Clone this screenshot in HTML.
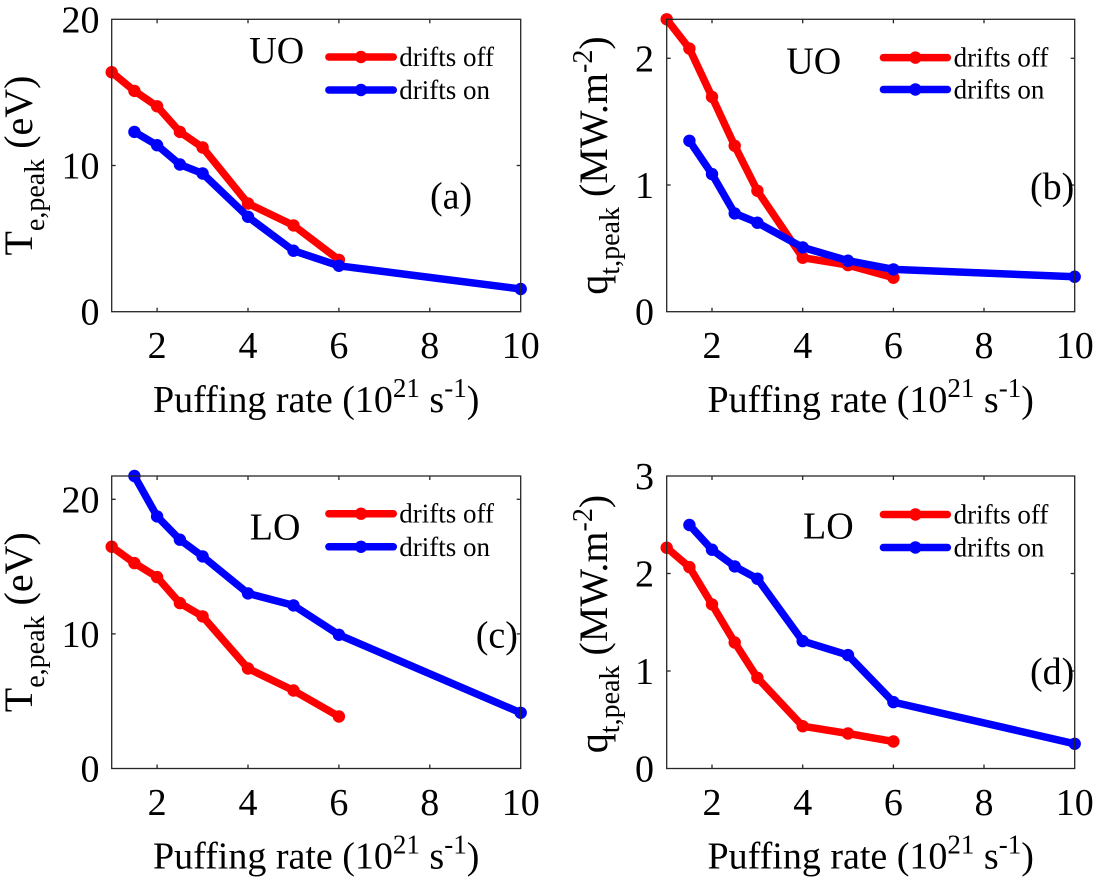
<!DOCTYPE html>
<html>
<head>
<meta charset="utf-8">
<style>
  html,body{margin:0;padding:0;background:#fff;}
  svg{display:block;}
  svg text, svg tspan{font-family:"Liberation Serif","Times New Roman",serif;fill:#000;}
  .tk{font-size:38px;font-family:"Liberation Serif",serif;}
  .lg{font-size:27px;font-family:"Liberation Serif",serif;}
  .lb{font-size:38px;font-family:"Liberation Serif",serif;}
  .ax{fill:none;stroke:#262626;stroke-width:1.3;}
  .tick{stroke:#262626;stroke-width:1.3;}
  .r{fill:none;stroke:#ff0000;stroke-width:7.5;stroke-linejoin:round;stroke-linecap:round;}
  .b{fill:none;stroke:#0000ff;stroke-width:7.5;stroke-linejoin:round;stroke-linecap:round;}
  .rm{fill:#ff0000;}
  .bm{fill:#0000ff;}
</style>
</head>
<body>
<svg width="1102" height="883" viewBox="0 0 1102 883" xmlns="http://www.w3.org/2000/svg" font-family="Liberation Serif, serif">
<rect x="0" y="0" width="1102" height="883" fill="#fff"/>

<!-- ================= PANEL A ================= -->
<g font-family="Liberation Serif, serif">
  <polyline class="r" points="111.7,72.2 134.4,90.9 157.1,106.3 179.9,131.9 202.6,147.5 248.0,203.5 293.5,225.4 338.9,259.8"/>
  <g class="rm">
    <circle cx="111.7" cy="72.2" r="6.2"/><circle cx="134.4" cy="90.9" r="6.2"/><circle cx="157.1" cy="106.3" r="6.2"/><circle cx="179.9" cy="131.9" r="6.2"/><circle cx="202.6" cy="147.5" r="6.2"/><circle cx="248.0" cy="203.5" r="6.2"/><circle cx="293.5" cy="225.4" r="6.2"/><circle cx="338.9" cy="259.8" r="6.2"/>
  </g>
  <polyline class="b" points="134.4,131.9 157.1,145.2 179.9,164.5 202.6,173.5 248.0,216.8 293.5,250.7 338.9,265.8 520.7,289.0"/>
  <g class="bm">
    <circle cx="134.4" cy="131.9" r="6.2"/><circle cx="157.1" cy="145.2" r="6.2"/><circle cx="179.9" cy="164.5" r="6.2"/><circle cx="202.6" cy="173.5" r="6.2"/><circle cx="248.0" cy="216.8" r="6.2"/><circle cx="293.5" cy="250.7" r="6.2"/><circle cx="338.9" cy="265.8" r="6.2"/><circle cx="520.7" cy="289.0" r="6.2"/>
  </g>
  <rect class="ax" x="111.7" y="19.3" width="409" height="292.4"/>
  <g class="tick">
    <line x1="157.1" y1="311.7" x2="157.1" y2="307.7"/><line x1="248.0" y1="311.7" x2="248.0" y2="307.7"/><line x1="338.9" y1="311.7" x2="338.9" y2="307.7"/><line x1="429.8" y1="311.7" x2="429.8" y2="307.7"/>
    <line x1="157.1" y1="19.3" x2="157.1" y2="23.3"/><line x1="248.0" y1="19.3" x2="248.0" y2="23.3"/><line x1="338.9" y1="19.3" x2="338.9" y2="23.3"/><line x1="429.8" y1="19.3" x2="429.8" y2="23.3"/>
    <line x1="111.7" y1="165.5" x2="115.7" y2="165.5"/><line x1="520.7" y1="165.5" x2="516.7" y2="165.5"/>
  </g>
  <text class="tk" font-family="Liberation Serif, serif" x="99.5" y="32.5" text-anchor="end">20</text>
  <text class="tk" font-family="Liberation Serif, serif" x="99.5" y="178.5" text-anchor="end">10</text>
  <text class="tk" font-family="Liberation Serif, serif" x="99.5" y="324.7" text-anchor="end">0</text>
  <text class="tk" font-family="Liberation Serif, serif" x="157.1" y="358" text-anchor="middle">2</text>
  <text class="tk" font-family="Liberation Serif, serif" x="248.0" y="358" text-anchor="middle">4</text>
  <text class="tk" font-family="Liberation Serif, serif" x="338.9" y="358" text-anchor="middle">6</text>
  <text class="tk" font-family="Liberation Serif, serif" x="429.8" y="358" text-anchor="middle">8</text>
  <text class="tk" font-family="Liberation Serif, serif" x="520.7" y="358" text-anchor="middle">10</text>
  <text class="lb" font-family="Liberation Serif, serif" x="316.2" y="412" text-anchor="middle">Puffing rate (10<tspan font-size="27" dy="-15">21</tspan><tspan dy="15"> s</tspan><tspan font-size="27" dy="-15">-1</tspan><tspan dy="15">)</tspan></text>
  <text font-family="Liberation Serif, serif" font-size="40" transform="translate(32,165.5) rotate(-90)" text-anchor="middle">T<tspan font-size="28" dy="12">e,peak</tspan><tspan dy="-12"> (eV)</tspan></text>
  <text class="lb" font-family="Liberation Serif, serif" x="249.3" y="63">UO</text>
  <text class="lb" font-family="Liberation Serif, serif" x="430" y="208.5">(a)</text>
  <line class="r" x1="328.9" y1="57" x2="393.3" y2="57" stroke-linecap="butt"/>
  <circle class="rm" cx="361" cy="57" r="6.2"/>
  <line class="b" x1="328.9" y1="90" x2="393.3" y2="90" stroke-linecap="butt"/>
  <circle class="bm" cx="361" cy="90" r="6.2"/>
  <text class="lg" font-family="Liberation Serif, serif" x="399.3" y="66">drifts off</text>
  <text class="lg" font-family="Liberation Serif, serif" x="399.3" y="99">drifts on</text>
</g>

<!-- ================= PANEL B ================= -->
<g font-family="Liberation Serif, serif">
  <polyline class="r" points="666.7,19.3 689.4,48.6 712.0,96.9 734.7,145.8 757.4,190.8 802.7,257.7 848.0,265.1 893.4,277.7"/>
  <g class="rm">
    <circle cx="666.7" cy="19.3" r="6.2"/><circle cx="689.4" cy="48.6" r="6.2"/><circle cx="712.0" cy="96.9" r="6.2"/><circle cx="734.7" cy="145.8" r="6.2"/><circle cx="757.4" cy="190.8" r="6.2"/><circle cx="802.7" cy="257.7" r="6.2"/><circle cx="848.0" cy="265.1" r="6.2"/><circle cx="893.4" cy="277.7" r="6.2"/>
  </g>
  <polyline class="b" points="689.4,140.8 712.0,174.1 734.7,213.4 757.4,222.7 802.7,247.4 848.0,260.7 893.4,269.4 1074.7,276.7"/>
  <g class="bm">
    <circle cx="689.4" cy="140.8" r="6.2"/><circle cx="712.0" cy="174.1" r="6.2"/><circle cx="734.7" cy="213.4" r="6.2"/><circle cx="757.4" cy="222.7" r="6.2"/><circle cx="802.7" cy="247.4" r="6.2"/><circle cx="848.0" cy="260.7" r="6.2"/><circle cx="893.4" cy="269.4" r="6.2"/><circle cx="1074.7" cy="276.7" r="6.2"/>
  </g>
  <rect class="ax" x="666.7" y="19.3" width="408" height="292.4"/>
  <g class="tick">
    <line x1="712.0" y1="311.7" x2="712.0" y2="307.7"/><line x1="802.7" y1="311.7" x2="802.7" y2="307.7"/><line x1="893.4" y1="311.7" x2="893.4" y2="307.7"/><line x1="984.0" y1="311.7" x2="984.0" y2="307.7"/>
    <line x1="712.0" y1="19.3" x2="712.0" y2="23.3"/><line x1="802.7" y1="19.3" x2="802.7" y2="23.3"/><line x1="893.4" y1="19.3" x2="893.4" y2="23.3"/><line x1="984.0" y1="19.3" x2="984.0" y2="23.3"/>
    <line x1="666.7" y1="185.0" x2="670.7" y2="185.0"/><line x1="1074.7" y1="185.0" x2="1070.7" y2="185.0"/>
    <line x1="666.7" y1="58.3" x2="670.7" y2="58.3"/><line x1="1074.7" y1="58.3" x2="1070.7" y2="58.3"/>
  </g>
  <text class="tk" font-family="Liberation Serif, serif" x="654" y="71.3" text-anchor="end">2</text>
  <text class="tk" font-family="Liberation Serif, serif" x="654" y="198" text-anchor="end">1</text>
  <text class="tk" font-family="Liberation Serif, serif" x="654" y="324.7" text-anchor="end">0</text>
  <text class="tk" font-family="Liberation Serif, serif" x="712.0" y="358" text-anchor="middle">2</text>
  <text class="tk" font-family="Liberation Serif, serif" x="802.7" y="358" text-anchor="middle">4</text>
  <text class="tk" font-family="Liberation Serif, serif" x="893.4" y="358" text-anchor="middle">6</text>
  <text class="tk" font-family="Liberation Serif, serif" x="984.0" y="358" text-anchor="middle">8</text>
  <text class="tk" font-family="Liberation Serif, serif" x="1074.7" y="358" text-anchor="middle">10</text>
  <text class="lb" font-family="Liberation Serif, serif" x="870.7" y="412" text-anchor="middle">Puffing rate (10<tspan font-size="27" dy="-15">21</tspan><tspan dy="15"> s</tspan><tspan font-size="27" dy="-15">-1</tspan><tspan dy="15">)</tspan></text>
  <text font-family="Liberation Serif, serif" font-size="40" transform="translate(607,165.5) rotate(-90)" text-anchor="middle">q<tspan font-size="28" dy="12">t,peak</tspan><tspan dy="-12"> (MW.m</tspan><tspan font-size="28" dy="-15">-2</tspan><tspan dy="15">)</tspan></text>
  <text class="lb" font-family="Liberation Serif, serif" x="786.3" y="73.6">UO</text>
  <text class="lb" font-family="Liberation Serif, serif" x="1030" y="199">(b)</text>
  <line class="r" x1="883.4" y1="57.6" x2="947.4" y2="57.6" stroke-linecap="butt"/>
  <circle class="rm" cx="915.4" cy="57.6" r="6.2"/>
  <line class="b" x1="883.4" y1="89.5" x2="947.4" y2="89.5" stroke-linecap="butt"/>
  <circle class="bm" cx="915.4" cy="89.5" r="6.2"/>
  <text class="lg" font-family="Liberation Serif, serif" x="953.6" y="66.6">drifts off</text>
  <text class="lg" font-family="Liberation Serif, serif" x="953.6" y="98.5">drifts on</text>
</g>

<!-- ================= PANEL C ================= -->
<g font-family="Liberation Serif, serif">
  <polyline class="r" points="111.7,546.7 134.4,563.1 157.1,577.1 179.9,603.1 202.6,616.4 248.0,668.5 293.5,690.5 338.9,716.5"/>
  <g class="rm">
    <circle cx="111.7" cy="546.7" r="6.2"/><circle cx="134.4" cy="563.1" r="6.2"/><circle cx="157.1" cy="577.1" r="6.2"/><circle cx="179.9" cy="603.1" r="6.2"/><circle cx="202.6" cy="616.4" r="6.2"/><circle cx="248.0" cy="668.5" r="6.2"/><circle cx="293.5" cy="690.5" r="6.2"/><circle cx="338.9" cy="716.5" r="6.2"/>
  </g>
  <polyline class="b" points="134.4,476 157.1,516.4 179.9,539.7 202.6,556.4 248.0,593.4 293.5,605.4 338.9,634.8 520.7,712.8"/>
  <g class="bm">
    <circle cx="134.4" cy="476" r="6.2"/><circle cx="157.1" cy="516.4" r="6.2"/><circle cx="179.9" cy="539.7" r="6.2"/><circle cx="202.6" cy="556.4" r="6.2"/><circle cx="248.0" cy="593.4" r="6.2"/><circle cx="293.5" cy="605.4" r="6.2"/><circle cx="338.9" cy="634.8" r="6.2"/><circle cx="520.7" cy="712.8" r="6.2"/>
  </g>
  <rect class="ax" x="111.7" y="476" width="409" height="292.5"/>
  <g class="tick">
    <line x1="157.1" y1="768.5" x2="157.1" y2="764.5"/><line x1="248.0" y1="768.5" x2="248.0" y2="764.5"/><line x1="338.9" y1="768.5" x2="338.9" y2="764.5"/><line x1="429.8" y1="768.5" x2="429.8" y2="764.5"/>
    <line x1="157.1" y1="476" x2="157.1" y2="480"/><line x1="248.0" y1="476" x2="248.0" y2="480"/><line x1="338.9" y1="476" x2="338.9" y2="480"/><line x1="429.8" y1="476" x2="429.8" y2="480"/>
    <line x1="111.7" y1="633.9" x2="115.7" y2="633.9"/><line x1="520.7" y1="633.9" x2="516.7" y2="633.9"/>
    <line x1="111.7" y1="499.3" x2="115.7" y2="499.3"/><line x1="520.7" y1="499.3" x2="516.7" y2="499.3"/>
  </g>
  <text class="tk" font-family="Liberation Serif, serif" x="99.5" y="512.3" text-anchor="end">20</text>
  <text class="tk" font-family="Liberation Serif, serif" x="99.5" y="646.9" text-anchor="end">10</text>
  <text class="tk" font-family="Liberation Serif, serif" x="99.5" y="781.5" text-anchor="end">0</text>
  <text class="tk" font-family="Liberation Serif, serif" x="157.1" y="814.8" text-anchor="middle">2</text>
  <text class="tk" font-family="Liberation Serif, serif" x="248.0" y="814.8" text-anchor="middle">4</text>
  <text class="tk" font-family="Liberation Serif, serif" x="338.9" y="814.8" text-anchor="middle">6</text>
  <text class="tk" font-family="Liberation Serif, serif" x="429.8" y="814.8" text-anchor="middle">8</text>
  <text class="tk" font-family="Liberation Serif, serif" x="520.7" y="814.8" text-anchor="middle">10</text>
  <text class="lb" font-family="Liberation Serif, serif" x="316.2" y="868.7" text-anchor="middle">Puffing rate (10<tspan font-size="27" dy="-15">21</tspan><tspan dy="15"> s</tspan><tspan font-size="27" dy="-15">-1</tspan><tspan dy="15">)</tspan></text>
  <text font-family="Liberation Serif, serif" font-size="40" transform="translate(32,622.2) rotate(-90)" text-anchor="middle">T<tspan font-size="28" dy="12">e,peak</tspan><tspan dy="-12"> (eV)</tspan></text>
  <text class="lb" font-family="Liberation Serif, serif" x="249.8" y="539.7">LO</text>
  <text class="lb" font-family="Liberation Serif, serif" x="475.7" y="647.5">(c)</text>
  <line class="r" x1="328.9" y1="513.7" x2="393.3" y2="513.7" stroke-linecap="butt"/>
  <circle class="rm" cx="361" cy="513.7" r="6.2"/>
  <line class="b" x1="328.9" y1="546.8" x2="393.3" y2="546.8" stroke-linecap="butt"/>
  <circle class="bm" cx="361" cy="546.8" r="6.2"/>
  <text class="lg" font-family="Liberation Serif, serif" x="399.3" y="522.7">drifts off</text>
  <text class="lg" font-family="Liberation Serif, serif" x="399.3" y="555.8">drifts on</text>
</g>

<!-- ================= PANEL D ================= -->
<g font-family="Liberation Serif, serif">
  <polyline class="r" points="666.7,547.7 689.4,567.1 712.0,604.4 734.7,642.5 757.4,677.8 802.7,726.2 848.0,733.5 893.4,741.5"/>
  <g class="rm">
    <circle cx="666.7" cy="547.7" r="6.2"/><circle cx="689.4" cy="567.1" r="6.2"/><circle cx="712.0" cy="604.4" r="6.2"/><circle cx="734.7" cy="642.5" r="6.2"/><circle cx="757.4" cy="677.8" r="6.2"/><circle cx="802.7" cy="726.2" r="6.2"/><circle cx="848.0" cy="733.5" r="6.2"/><circle cx="893.4" cy="741.5" r="6.2"/>
  </g>
  <polyline class="b" points="689.4,525.0 712.0,549.7 734.7,566.4 757.4,578.7 802.7,641.1 848.0,655.1 893.4,702.1 1074.7,743.8"/>
  <g class="bm">
    <circle cx="689.4" cy="525.0" r="6.2"/><circle cx="712.0" cy="549.7" r="6.2"/><circle cx="734.7" cy="566.4" r="6.2"/><circle cx="757.4" cy="578.7" r="6.2"/><circle cx="802.7" cy="641.1" r="6.2"/><circle cx="848.0" cy="655.1" r="6.2"/><circle cx="893.4" cy="702.1" r="6.2"/><circle cx="1074.7" cy="743.8" r="6.2"/>
  </g>
  <rect class="ax" x="666.7" y="476" width="408" height="292.5"/>
  <g class="tick">
    <line x1="712.0" y1="768.5" x2="712.0" y2="764.5"/><line x1="802.7" y1="768.5" x2="802.7" y2="764.5"/><line x1="893.4" y1="768.5" x2="893.4" y2="764.5"/><line x1="984.0" y1="768.5" x2="984.0" y2="764.5"/>
    <line x1="712.0" y1="476" x2="712.0" y2="480"/><line x1="802.7" y1="476" x2="802.7" y2="480"/><line x1="893.4" y1="476" x2="893.4" y2="480"/><line x1="984.0" y1="476" x2="984.0" y2="480"/>
    <line x1="666.7" y1="573.5" x2="670.7" y2="573.5"/><line x1="1074.7" y1="573.5" x2="1070.7" y2="573.5"/>
    <line x1="666.7" y1="671" x2="670.7" y2="671"/><line x1="1074.7" y1="671" x2="1070.7" y2="671"/>
  </g>
  <text class="tk" font-family="Liberation Serif, serif" x="654" y="489" text-anchor="end">3</text>
  <text class="tk" font-family="Liberation Serif, serif" x="654" y="586.5" text-anchor="end">2</text>
  <text class="tk" font-family="Liberation Serif, serif" x="654" y="684" text-anchor="end">1</text>
  <text class="tk" font-family="Liberation Serif, serif" x="654" y="781.5" text-anchor="end">0</text>
  <text class="tk" font-family="Liberation Serif, serif" x="712.0" y="814.8" text-anchor="middle">2</text>
  <text class="tk" font-family="Liberation Serif, serif" x="802.7" y="814.8" text-anchor="middle">4</text>
  <text class="tk" font-family="Liberation Serif, serif" x="893.4" y="814.8" text-anchor="middle">6</text>
  <text class="tk" font-family="Liberation Serif, serif" x="984.0" y="814.8" text-anchor="middle">8</text>
  <text class="tk" font-family="Liberation Serif, serif" x="1074.7" y="814.8" text-anchor="middle">10</text>
  <text class="lb" font-family="Liberation Serif, serif" x="870.7" y="868.7" text-anchor="middle">Puffing rate (10<tspan font-size="27" dy="-15">21</tspan><tspan dy="15"> s</tspan><tspan font-size="27" dy="-15">-1</tspan><tspan dy="15">)</tspan></text>
  <text font-family="Liberation Serif, serif" font-size="40" transform="translate(607,624) rotate(-90)" text-anchor="middle">q<tspan font-size="28" dy="12">t,peak</tspan><tspan dy="-12"> (MW.m</tspan><tspan font-size="28" dy="-15">-2</tspan><tspan dy="15">)</tspan></text>
  <text class="lb" font-family="Liberation Serif, serif" x="803" y="538.7">LO</text>
  <text class="lb" font-family="Liberation Serif, serif" x="1030" y="684">(d)</text>
  <line class="r" x1="883.4" y1="514.5" x2="947.4" y2="514.5" stroke-linecap="butt"/>
  <circle class="rm" cx="915.4" cy="514.5" r="6.2"/>
  <line class="b" x1="883.4" y1="547.5" x2="947.4" y2="547.5" stroke-linecap="butt"/>
  <circle class="bm" cx="915.4" cy="547.5" r="6.2"/>
  <text class="lg" font-family="Liberation Serif, serif" x="953.6" y="523.5">drifts off</text>
  <text class="lg" font-family="Liberation Serif, serif" x="953.6" y="556.5">drifts on</text>
</g>
</svg>
</body>
</html>
